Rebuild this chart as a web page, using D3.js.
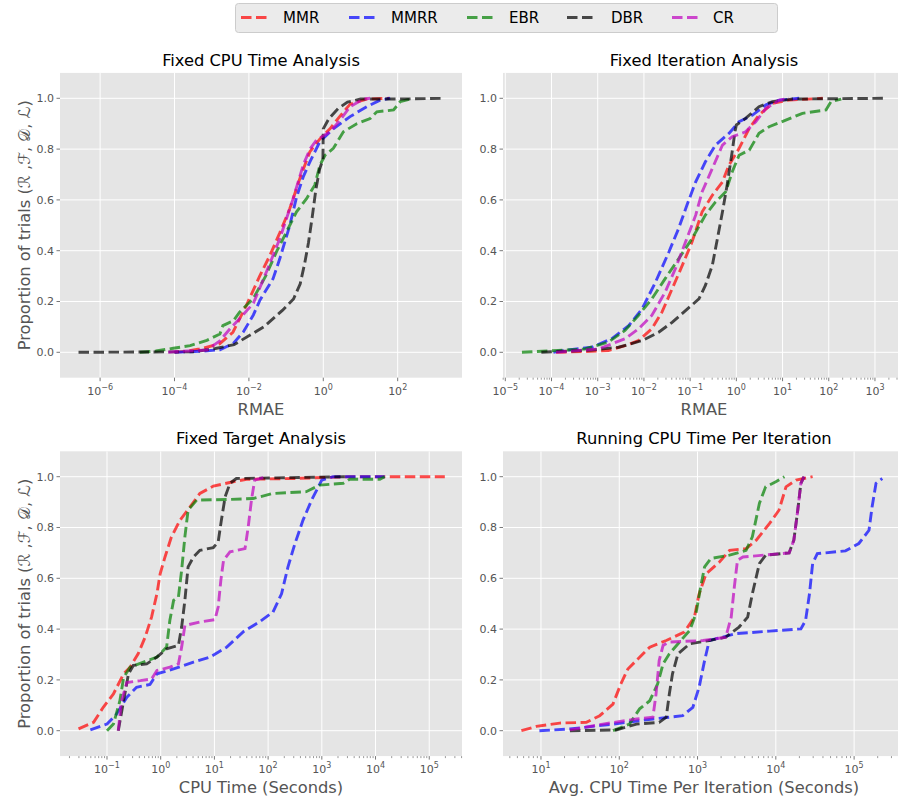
<!DOCTYPE html>
<html><head><meta charset="utf-8">
<script src="https://cdn.jsdelivr.net/npm/d3@7"></script>
<style>body{margin:0;background:#fff;} text{font-family:"DejaVu Sans",sans-serif;}</style>
</head><body><svg id="c" width="898" height="800"></svg>
<script>
// ---------- data (x stored as log10 of the value, y = proportion) ----------
const seriesNames = ["MMR","MMRR","EBR","DBR","CR"];
const seriesColors = ["#ff0000","#0000ff","#008000","#000000","#bf00bf"];
const panelTitles = ["Fixed CPU Time Analysis","Fixed Iteration Analysis","Fixed Target Analysis","Running CPU Time Per Iteration"];
const xAxisLabels = ["RMAE","RMAE","CPU Time (Seconds)","Avg. CPU Time Per Iteration (Seconds)"];
const yTickValues = [0,0.2,0.4,0.6,0.8,1.0];
const yAxisLabel = "Proportion of trials (ℛ ,ℱ, 𝒟, ℒ)";
const xMajorExponents1 = [-6,-4,-2,0,2];
const xMajorExponents2 = [-5,-4,-3,-2,-1,0,1,2,3];
const xMajorExponents3 = [-1,0,1,2,3,4,5];
const xMajorExponents4 = [1,2,3,4,5];

const cpu_MMR = [[-4.0,0],[-3.7,0.004],[-3.33,0.013],[-2.79,0.033],[-2.43,0.079],[-2.07,0.184],[-1.71,0.30],[-1.44,0.38],[-1.17,0.47],[-0.90,0.566],[-0.63,0.684],[-0.36,0.79],[-0.09,0.84],[0.18,0.88],[0.45,0.93],[0.72,0.977],[1.17,0.997],[1.77,1.0]];
const cpu_MMRR = [[-4.0,0],[-3.3,0.004],[-2.78,0.01],[-2.42,0.035],[-2.15,0.08],[-1.88,0.147],[-1.70,0.206],[-1.35,0.29],[-1.17,0.368],[-0.90,0.50],[-0.72,0.61],[-0.54,0.69],[-0.36,0.75],[-0.09,0.83],[0.27,0.88],[0.72,0.928],[1.17,0.967],[1.53,0.993],[1.80,1.0]];
const cpu_EBR = [[-4.93,0],[-4.5,0.005],[-4.03,0.016],[-3.58,0.026],[-3.13,0.047],[-2.78,0.072],[-2.70,0.105],[-2.42,0.124],[-2.25,0.158],[-1.89,0.21],[-1.55,0.30],[-1.26,0.395],[-0.99,0.474],[-0.72,0.553],[-0.45,0.605],[-0.23,0.658],[-0.09,0.737],[0.05,0.776],[0.27,0.803],[0.54,0.868],[0.90,0.90],[1.26,0.92],[1.44,0.947],[1.89,0.954],[2.07,0.987],[2.33,0.997]];
const cpu_DBR = [[-6.58,0],[-3.5,0.002],[-2.9,0.015],[-2.4,0.03],[-2.0,0.065],[-1.6,0.10],[-1.1,0.165],[-0.8,0.21],[-0.62,0.27],[-0.5,0.35],[-0.4,0.43],[-0.3,0.53],[-0.2,0.64],[-0.1,0.72],[-0.01,0.76],[0.0,0.88],[0.15,0.92],[0.4,0.96],[0.65,0.985],[1.0,0.997],[2.0,0.997],[3.23,1.0]];
const cpu_CR = [[-4.17,0],[-4.03,0.002],[-3.13,0.009],[-2.78,0.045],[-2.5,0.094],[-2.24,0.134],[-1.88,0.193],[-1.53,0.316],[-1.17,0.447],[-0.81,0.605],[-0.54,0.737],[-0.36,0.80],[-0.18,0.836],[0.18,0.868],[0.45,0.914],[0.72,0.967],[1.08,0.997],[1.26,1.0]];

const iter_MMR = [[-3.9,0],[-3.13,0.004],[-2.77,0.007],[-2.41,0.026],[-2.12,0.046],[-1.83,0.092],[-1.61,0.158],[-1.39,0.25],[-1.17,0.342],[-0.96,0.434],[-0.74,0.553],[-0.52,0.618],[-0.30,0.671],[-0.16,0.737],[0.06,0.803],[0.28,0.882],[0.49,0.934],[0.78,0.98],[1.14,0.993],[1.87,1.0]];
const iter_MMRR = [[-3.96,0],[-3.86,0.004],[-3.13,0.02],[-2.70,0.053],[-2.33,0.105],[-2.04,0.171],[-1.75,0.276],[-1.46,0.395],[-1.25,0.487],[-1.07,0.579],[-0.88,0.671],[-0.67,0.75],[-0.45,0.816],[-0.16,0.862],[0.06,0.908],[0.35,0.934],[0.64,0.974],[0.93,0.993],[1.36,1.0]];
const iter_EBR = [[-4.64,0],[-3.86,0.007],[-3.28,0.013],[-2.77,0.04],[-2.41,0.086],[-2.12,0.145],[-1.83,0.21],[-1.54,0.29],[-1.25,0.368],[-0.96,0.447],[-0.67,0.54],[-0.45,0.592],[-0.23,0.632],[-0.09,0.71],[0.06,0.776],[0.28,0.796],[0.49,0.862],[0.71,0.888],[1.07,0.914],[1.43,0.941],[1.94,0.954],[2.05,0.987],[2.27,0.997]];
const iter_DBR = [[-4.22,0],[-3.86,0.003],[-3.13,0.009],[-2.55,0.02],[-2.04,0.046],[-1.68,0.079],[-1.39,0.118],[-1.10,0.164],[-0.81,0.21],[-0.67,0.263],[-0.52,0.342],[-0.41,0.447],[-0.30,0.553],[-0.20,0.658],[-0.09,0.79],[-0.03,0.868],[0.0,0.895],[0.20,0.921],[0.49,0.967],[0.78,0.987],[1.22,0.997],[3.21,1.0]];
const iter_CR = [[-3.9,0],[-2.99,0.013],[-2.41,0.053],[-2.12,0.092],[-1.83,0.145],[-1.54,0.237],[-1.32,0.329],[-1.10,0.434],[-0.88,0.54],[-0.74,0.632],[-0.52,0.724],[-0.30,0.816],[-0.09,0.849],[0.20,0.868],[0.42,0.908],[0.64,0.96],[0.93,0.993],[1.14,1.0]];

const target_MMR = [[-1.53,0.007],[-1.25,0.033],[-1.07,0.092],[-0.88,0.145],[-0.69,0.224],[-0.57,0.25],[-0.42,0.303],[-0.29,0.368],[-0.17,0.447],[-0.07,0.54],[-0.01,0.618],[0.08,0.684],[0.20,0.763],[0.36,0.829],[0.55,0.882],[0.73,0.934],[0.98,0.963],[1.35,0.98],[1.60,0.99],[2.5,0.993],[3.5,1.0],[5.29,1.0]];
const target_MMRR = [[-1.31,0.003],[-1.0,0.026],[-0.82,0.066],[-0.63,0.132],[-0.45,0.171],[-0.20,0.182],[-0.07,0.224],[0.24,0.243],[0.61,0.27],[0.92,0.29],[1.23,0.329],[1.54,0.39],[1.85,0.43],[2.09,0.467],[2.25,0.539],[2.37,0.645],[2.50,0.737],[2.65,0.829],[2.81,0.908],[3.0,0.987],[3.21,1.0],[4.17,1.0]];
const target_EBR = [[-1.0,0],[-0.88,0.026],[-0.76,0.118],[-0.69,0.21],[-0.57,0.25],[-0.32,0.27],[-0.07,0.29],[0.11,0.329],[0.17,0.434],[0.24,0.513],[0.33,0.526],[0.39,0.632],[0.45,0.763],[0.51,0.868],[0.67,0.908],[1.23,0.91],[1.72,0.914],[2.09,0.934],[2.71,0.941],[2.96,0.967],[3.40,0.974],[3.52,0.99],[4.08,0.99],[4.17,1.0]];
const target_DBR = [[-0.79,0],[-0.69,0.118],[-0.60,0.224],[-0.51,0.257],[-0.26,0.263],[-0.07,0.29],[0.11,0.322],[0.33,0.336],[0.39,0.408],[0.45,0.513],[0.51,0.645],[0.61,0.684],[0.73,0.71],[0.98,0.721],[1.07,0.743],[1.13,0.829],[1.20,0.921],[1.29,0.974],[1.41,0.993],[3.46,1.0]];
const target_CR = [[-0.79,0],[-0.73,0.118],[-0.63,0.19],[-0.38,0.197],[-0.17,0.204],[-0.07,0.237],[0.17,0.25],[0.33,0.263],[0.39,0.329],[0.45,0.414],[0.73,0.428],[1.01,0.437],[1.07,0.487],[1.12,0.592],[1.17,0.671],[1.29,0.704],[1.57,0.717],[1.63,0.803],[1.69,0.908],[1.75,0.987],[1.97,1.0]];

const perIter_MMR = [[0.75,0],[0.94,0.017],[1.24,0.03],[1.58,0.033],[1.75,0.059],[1.92,0.105],[2.02,0.184],[2.11,0.243],[2.26,0.289],[2.39,0.329],[2.60,0.355],[2.83,0.388],[2.96,0.447],[3.02,0.539],[3.11,0.618],[3.28,0.664],[3.41,0.71],[3.62,0.717],[3.75,0.75],[3.92,0.816],[4.04,0.868],[4.13,0.96],[4.26,0.987],[4.47,1.0]];
const perIter_MMRR = [[0.98,0],[1.37,0.007],[1.92,0.026],[2.43,0.046],[2.81,0.059],[2.94,0.092],[3.02,0.171],[3.09,0.276],[3.15,0.355],[3.49,0.382],[3.92,0.392],[4.32,0.401],[4.38,0.434],[4.43,0.539],[4.47,0.658],[4.53,0.697],[4.89,0.708],[5.06,0.737],[5.19,0.789],[5.23,0.882],[5.28,0.974],[5.36,0.993]];
const perIter_EBR = [[1.92,0],[2.13,0.026],[2.26,0.086],[2.39,0.118],[2.49,0.184],[2.56,0.263],[2.64,0.303],[2.77,0.349],[2.90,0.395],[2.98,0.461],[3.04,0.566],[3.09,0.645],[3.17,0.678],[3.41,0.691],[3.62,0.71],[3.70,0.763],[3.79,0.895],[3.87,0.96],[4.0,0.98],[4.11,1.0]];
const perIter_DBR = [[1.37,0],[1.96,0.003],[2.22,0.026],[2.51,0.033],[2.60,0.053],[2.64,0.145],[2.68,0.224],[2.75,0.303],[2.90,0.342],[3.15,0.355],[3.36,0.368],[3.53,0.408],[3.64,0.447],[3.70,0.539],[3.79,0.658],[3.87,0.691],[4.17,0.70],[4.23,0.75],[4.28,0.868],[4.32,0.974],[4.36,1.0]];
const perIter_CR = [[1.37,0.003],[1.79,0.026],[2.22,0.046],[2.43,0.053],[2.47,0.145],[2.51,0.276],[2.56,0.336],[2.64,0.349],[3.07,0.355],[3.36,0.368],[3.43,0.447],[3.47,0.566],[3.51,0.671],[3.58,0.684],[4.17,0.70],[4.23,0.75],[4.28,0.868],[4.32,0.974],[4.36,1.0]];

// ---------- layout ----------
const svg = d3.select("#c");
const PW = 402, PH = 304.8;
const panels = [
  {left:60, top:72.9, xlog:[-7.078,3.729], majors:xMajorExponents1, minor:false, series:[cpu_MMR,cpu_MMRR,cpu_EBR,cpu_DBR,cpu_CR]},
  {left:503, top:72.9, xlog:[-5.05,3.65], majors:xMajorExponents2, minor:true, series:[iter_MMR,iter_MMRR,iter_EBR,iter_DBR,iter_CR]},
  {left:60, top:451.3, xlog:[-1.875,5.61], majors:xMajorExponents3, minor:true, series:[target_MMR,target_MMRR,target_EBR,target_DBR,target_CR]},
  {left:503, top:451.3, xlog:[0.515,5.65], majors:xMajorExponents4, minor:true, series:[perIter_MMR,perIter_MMRR,perIter_EBR,perIter_DBR,perIter_CR]}
];
const tickColor = "#555555";
const sup = e => String(e).replace("-", "\u2212");

panels.forEach((p, pi) => {
  const g = svg.append("g").attr("transform", `translate(${p.left},${p.top})`);
  const x = d3.scaleLog().domain([10 ** p.xlog[0], 10 ** p.xlog[1]]).range([0, PW]);
  const y = d3.scaleLinear().domain([-0.1, 1.1]).range([PH, 0]);
  const clipId = "clip" + pi;
  g.append("clipPath").attr("id", clipId).append("rect").attr("width", PW).attr("height", PH);
  g.append("rect").attr("width", PW).attr("height", PH).attr("fill", "#E5E5E5");
  // grid
  const grid = g.append("g").attr("clip-path", `url(#${clipId})`);
  grid.selectAll("line.gx").data(p.majors).join("line")
    .attr("x1", d => x(10 ** d)).attr("x2", d => x(10 ** d)).attr("y1", 0).attr("y2", PH)
    .attr("stroke", "#fff").attr("stroke-width", 1);
  grid.selectAll("line.gy").data(yTickValues).join("line")
    .attr("x1", 0).attr("x2", PW).attr("y1", d => y(d)).attr("y2", d => y(d))
    .attr("stroke", "#fff").attr("stroke-width", 1);
  // y axis
  const ya = g.append("g");
  yTickValues.forEach(v => {
    ya.append("line").attr("x1", -3.5).attr("x2", 0).attr("y1", y(v)).attr("y2", y(v)).attr("stroke", tickColor).attr("stroke-width", 0.8);
    ya.append("text").attr("x", -6).attr("y", y(v)).attr("dy", "0.35em").attr("text-anchor", "end")
      .attr("font-size", 11).attr("fill", tickColor).text(v.toFixed(1));
  });
  // x axis
  const xa = g.append("g").attr("transform", `translate(0,${PH})`);
  if (p.minor) {
    const minors = [];
    for (let e = Math.floor(p.xlog[0]); e <= Math.ceil(p.xlog[1]); e++) {
      for (let m = 2; m <= 9; m++) {
        const v = m * 10 ** e;
        const lv = Math.log10(v);
        if (lv >= p.xlog[0] && lv <= p.xlog[1]) minors.push(v);
      }
    }
    xa.selectAll("line.mn").data(minors).join("line")
      .attr("x1", d => x(d)).attr("x2", d => x(d)).attr("y1", 0).attr("y2", 2)
      .attr("stroke", tickColor).attr("stroke-width", 0.6);
  }
  p.majors.forEach(e => {
    const px = x(10 ** e);
    xa.append("line").attr("x1", px).attr("x2", px).attr("y1", 0).attr("y2", 3.5).attr("stroke", tickColor).attr("stroke-width", 0.8);
    const t = xa.append("text").attr("x", px).attr("y", 17).attr("text-anchor", "middle").attr("fill", tickColor).attr("font-size", 11);
    t.append("tspan").text("10");
    t.append("tspan").attr("dy", -5).attr("font-size", 8).text(sup(e));
  });
  // labels
  g.append("text").attr("x", PW / 2).attr("y", -7).attr("text-anchor", "middle").attr("font-size", 16.3).attr("fill", "#000").text(panelTitles[pi]);
  g.append("text").attr("x", PW / 2).attr("y", PH + 37).attr("text-anchor", "middle").attr("font-size", 16.3).attr("fill", tickColor).text(xAxisLabels[pi]);
  if (pi % 2 === 0) {
    g.append("text").attr("transform", `translate(${-30},${PH / 2}) rotate(-90)`).attr("text-anchor", "middle")
      .attr("font-size", 16.3).attr("fill", tickColor).text(yAxisLabel);
  }
  // lines
  const line = d3.line().x(d => x(10 ** d[0])).y(d => y(d[1]));
  const lg = g.append("g").attr("clip-path", `url(#${clipId})`);
  p.series.forEach((s, si) => {
    lg.append("path").attr("d", line(s)).attr("fill", "none")
      .attr("stroke", seriesColors[si]).attr("stroke-opacity", 0.7)
      .attr("stroke-width", 2.9).attr("stroke-dasharray", "10.5,4.5");
  });
});

// ---------- legend ----------
const leg = svg.append("g");
leg.append("rect").attr("x", 235.5).attr("y", 3.5).attr("width", 542).attr("height", 29).attr("rx", 3)
  .attr("fill", "#ebebeb").attr("stroke", "#cccccc").attr("stroke-width", 1);
const legLineX = [241, 349, 467, 567, 672];
const legTextX = [283, 391, 509, 611, 713];
seriesNames.forEach((n, i) => {
  leg.append("line").attr("x1", legLineX[i]).attr("x2", legLineX[i] + 28).attr("y1", 17.5).attr("y2", 17.5)
    .attr("stroke", seriesColors[i]).attr("stroke-opacity", 0.7).attr("stroke-width", 2.9).attr("stroke-dasharray", "10.5,4.5");
  leg.append("text").attr("x", legTextX[i]).attr("y", 18).attr("dy", "0.35em").attr("font-size", 15).attr("fill", "#000").text(n);
});
</script></body></html>
